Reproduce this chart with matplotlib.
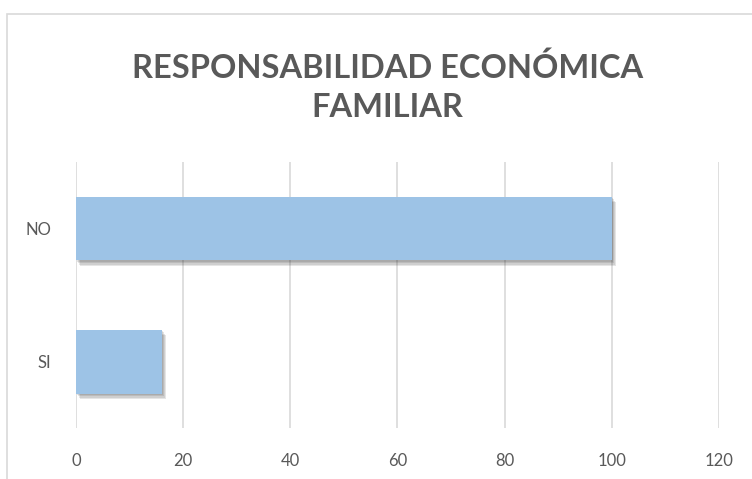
import matplotlib.pyplot as plt
import matplotlib.patheffects as pe
from matplotlib.patches import Rectangle

categorias = ['SI', 'NO']
valores = [16, 100]
ticks_x = [0, 20, 40, 60, 80, 100, 120]

plt.rcParams['font.family'] = ['Lato', 'DejaVu Sans']

fig = plt.figure(figsize=(7.52, 4.79), dpi=100)
ax = fig.add_axes([0.101, 0.106, 0.855, 0.556])

# marco del grafico
fig.patches.append(Rectangle((7 / 752, -0.1), 1.2, 1 - 14 / 479 + 0.1,
                             transform=fig.transFigure, fill=False,
                             edgecolor='#D9D9D9', linewidth=1.2))

bars = ax.barh(categorias, valores, height=0.48, color='#9DC3E6', zorder=3)
# sombra difusa aproximada con varias capas
sombra = [pe.SimplePatchShadow(offset=(d * 0.8, -d), shadow_rgbFace='#303030', alpha=0.12)
          for d in (1, 2, 3, 4)]
for b in bars:
    b.set_path_effects(sombra + [pe.Normal()])

ax.set_xlim(0, 120)
ax.set_ylim(-0.5, 1.5)
ax.set_xticks(ticks_x)
ax.grid(axis='x', color='#D9D9D9', linewidth=1.2, zorder=0)
ax.set_axisbelow(True)
for s in ax.spines.values():
    s.set_visible(False)
ax.tick_params(axis='both', length=0, labelsize=12, labelcolor='#595959')
ax.tick_params(axis='x', pad=18)
ax.tick_params(axis='y', pad=18)

fig.text(0.515, 0.818, 'RESPONSABILIDAD ECONÓMICA\nFAMILIAR', ha='center', va='center',
         fontsize=23.5, fontweight='bold', color='#595959', linespacing=1.45)

plt.savefig('out.png')
